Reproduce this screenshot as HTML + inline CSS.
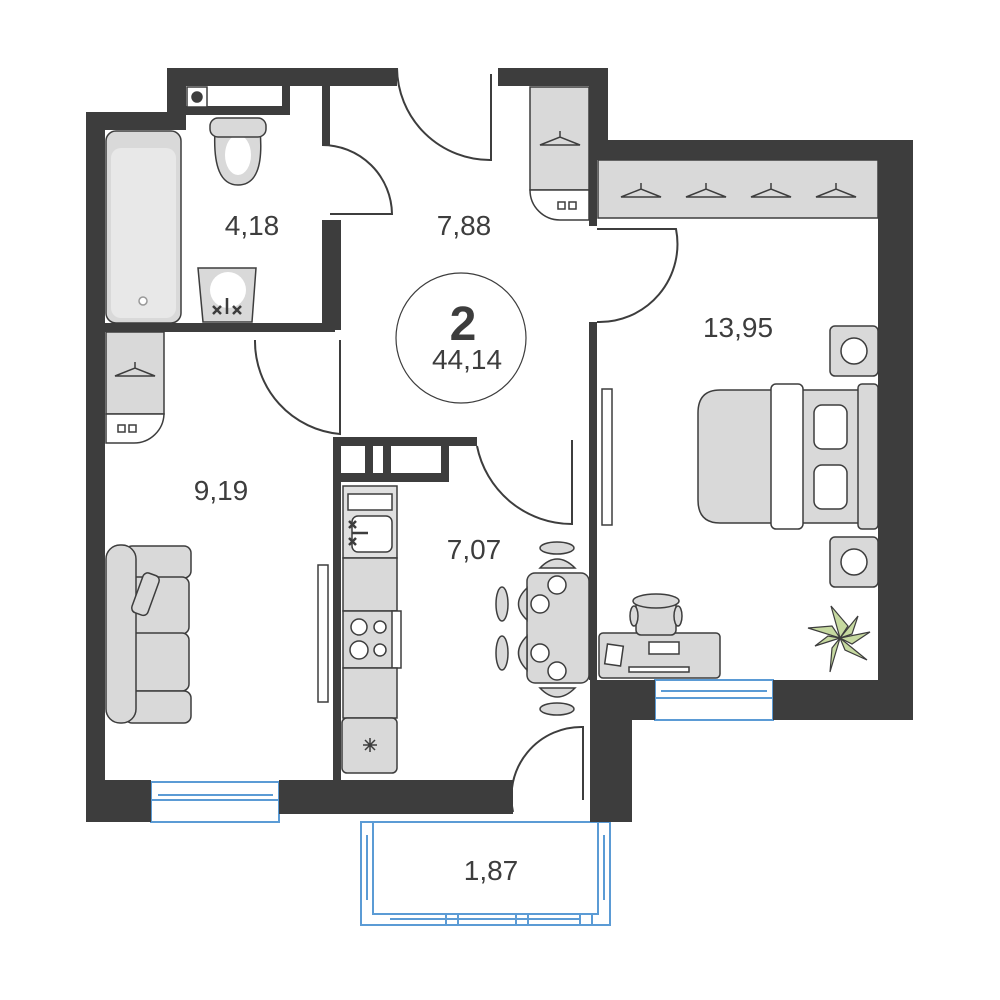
<!DOCTYPE html>
<html><head><meta charset="utf-8"><style>html,body{margin:0;padding:0;background:#fff}svg{display:block}</style></head>
<body>
<svg width="1000" height="1000" viewBox="0 0 1000 1000" xmlns="http://www.w3.org/2000/svg" font-family="Liberation Sans, DejaVu Sans, sans-serif">
<rect width="1000" height="1000" fill="#fff"/>
<g fill="none" stroke="#5b9bd5" stroke-width="2">
<rect x="361" y="822" width="249" height="103"/>
<rect x="373" y="822" width="225" height="92"/>
<line x1="367" y1="835" x2="367" y2="900"/><line x1="604" y1="835" x2="604" y2="900"/>
<line x1="390" y1="919" x2="580" y2="919"/>
<rect x="446" y="914" width="12" height="11"/><rect x="516" y="914" width="12" height="11"/><rect x="580" y="914" width="12" height="11"/>
<rect x="151" y="782" width="128" height="40"/><line x1="151" y1="800" x2="279" y2="800"/><line x1="158" y1="795" x2="273" y2="795"/>
<rect x="655" y="680" width="118" height="40"/><line x1="655" y1="698" x2="773" y2="698"/><line x1="661" y1="691" x2="767" y2="691"/>
</g>
<g fill="#3d3d3d">
<rect x="167" y="68" width="230" height="18"/>
<rect x="167" y="68" width="19" height="62"/>
<rect x="86" y="112" width="100" height="18"/>
<rect x="86" y="112" width="19" height="668"/>
<rect x="86" y="780" width="65" height="42"/>
<rect x="279" y="780" width="234" height="34"/>
<rect x="498" y="68" width="110" height="18"/>
<rect x="590" y="68" width="18" height="92"/>
<rect x="590" y="140" width="323" height="20"/>
<rect x="878" y="140" width="35" height="580"/>
<rect x="773" y="680" width="140" height="40"/>
<rect x="590" y="680" width="65" height="40"/>
<rect x="590" y="680" width="42" height="142"/>
<rect x="322" y="220" width="19" height="110"/>
<rect x="322" y="86" width="8" height="59"/>
<rect x="105" y="323" width="230" height="9"/>
<rect x="333" y="437" width="8" height="343"/>
<rect x="333" y="437" width="144" height="9"/>
<rect x="589" y="322" width="8" height="358"/>
<rect x="589" y="86" width="8" height="140"/>
<rect x="186" y="106" width="104" height="9"/><rect x="282" y="86" width="8" height="28"/>
<rect x="341" y="473" width="108" height="9"/><rect x="441" y="446" width="8" height="34"/><rect x="365" y="446" width="8" height="30"/><rect x="383" y="446" width="8" height="30"/>
</g>
<g fill="none" stroke="#3d3d3d" stroke-width="2">
<path d="M397 68 A93 93 0 0 0 491 160 L491 74"/>
<path d="M322 145 A70 70 0 0 1 392 214 L330 214"/>
<path d="M255 340 A93 93 0 0 0 340 434 L340 340"/>
<path d="M477 446 A97 97 0 0 0 572 524 L572 440"/>
<path d="M597 322 A78 78 0 0 0 676 229 L597 229"/>
<path d="M513 812 A70 70 0 0 1 583 727 L583 800"/>
</g>
<g stroke="#3d3d3d" stroke-width="1.5" fill="#d9d9d9">
<rect x="106" y="131" width="75" height="192" rx="10"/>
<rect x="111" y="148" width="65" height="170" rx="10" fill="#e8e8e8" stroke="none"/>
<circle cx="143" cy="301" r="4" fill="#fff" stroke="#999"/>
<rect x="187" y="87" width="20" height="20" fill="#fff"/><circle cx="197" cy="97" r="5" fill="#3d3d3d"/>
<path d="M215 130 L260 130 Q265 185 238 185 Q212 185 215 130Z"/>
<ellipse cx="238" cy="155" rx="13" ry="20" fill="#fff" stroke="none"/>
<rect x="210" y="118" width="56" height="19" rx="8"/>
<path d="M198 268 L256 268 L252 322 L203 322 Z"/>
<circle cx="228" cy="290" r="18" fill="#fff" stroke="none"/>
<rect x="106" y="332" width="58" height="82"/>
<path d="M106 414 L164 414 A30 30 0 0 1 134 443 L106 443 Z" fill="#fff"/>
<rect x="530" y="87" width="59" height="103"/>
<path d="M530 190 L589 190 L589 220 L560 220 A30 30 0 0 1 530 190Z" fill="#fff"/>
<rect x="598" y="160" width="280" height="58"/>
</g>
<g fill="none" stroke="#3d3d3d" stroke-width="1.5">
<path d="M115 376 L155 376 L135 368 Z M135 368 v-6"/>
<path d="M540 145 L580 145 L560 137 Z M560 137 v-6"/>
<path d="M621 197 L661 197 L641 189 Z M641 189 v-6"/>
<path d="M686 197 L726 197 L706 189 Z M706 189 v-6"/>
<path d="M751 197 L791 197 L771 189 Z M771 189 v-6"/>
<path d="M816 197 L856 197 L836 189 Z M836 189 v-6"/>
<rect x="118" y="425" width="7" height="7"/><rect x="129" y="425" width="7" height="7"/>
<rect x="558" y="202" width="7" height="7"/><rect x="569" y="202" width="7" height="7"/>
</g>
<g stroke="#3d3d3d" stroke-width="1.5" fill="#d9d9d9">
<rect x="125" y="546" width="66" height="32" rx="7"/>
<rect x="125" y="577" width="64" height="57" rx="7"/>
<rect x="125" y="633" width="64" height="58" rx="7"/>
<rect x="125" y="691" width="66" height="32" rx="7"/>
<rect x="106" y="545" width="30" height="178" rx="14"/>
<rect x="137" y="573" width="17" height="42" rx="5" transform="rotate(20 145 594)"/>
<rect x="318" y="565" width="10" height="137" fill="#fff"/>
<rect x="343" y="486" width="54" height="72" fill="#e0e0e0"/>
<rect x="348" y="494" width="44" height="16" fill="#fff"/>
<rect x="352" y="516" width="40" height="36" rx="6" fill="#fff"/>
<rect x="343" y="558" width="54" height="53"/>
<rect x="343" y="611" width="54" height="57"/>
<rect x="392" y="611" width="9" height="57" fill="#fff"/>
<circle cx="359" cy="627" r="8" fill="#fff"/><circle cx="380" cy="627" r="6" fill="#fff"/>
<circle cx="359" cy="650" r="9" fill="#fff"/><circle cx="380" cy="650" r="6" fill="#fff"/>
<rect x="343" y="668" width="54" height="50"/>
<rect x="342" y="718" width="55" height="55" rx="5"/>
<rect x="527" y="573" width="62" height="110" rx="8"/>
<ellipse cx="557" cy="548" rx="17" ry="6"/><ellipse cx="557" cy="709" rx="17" ry="6"/>
<path d="M540 568 Q557 550 575 568 Z"/><path d="M540 688 Q557 706 575 688 Z"/>
<ellipse cx="502" cy="604" rx="6" ry="17"/><ellipse cx="502" cy="653" rx="6" ry="17"/>
<path d="M527 588 Q510 604 527 620 Z"/><path d="M527 636 Q510 653 527 670 Z"/>
<circle cx="557" cy="585" r="9" fill="#fff"/><circle cx="540" cy="604" r="9" fill="#fff"/>
<circle cx="540" cy="653" r="9" fill="#fff"/><circle cx="557" cy="671" r="9" fill="#fff"/>
<rect x="602" y="389" width="10" height="136" fill="#fff"/>
<rect x="830" y="326" width="48" height="50" rx="5"/><circle cx="854" cy="351" r="13" fill="#fff"/>
<rect x="830" y="537" width="48" height="50" rx="5"/><circle cx="854" cy="562" r="13" fill="#fff"/>
<path d="M720 390 L860 390 L860 523 L720 523 Q698 523 698 500 L698 413 Q698 390 720 390Z"/>
<rect x="858" y="384" width="20" height="145" rx="4"/>
<rect x="771" y="384" width="32" height="145" rx="5" fill="#fff"/>
<rect x="814" y="405" width="33" height="44" rx="8" fill="#fff"/>
<rect x="814" y="465" width="33" height="44" rx="8" fill="#fff"/>
<rect x="599" y="633" width="121" height="45" rx="4"/>
<rect x="636" y="600" width="40" height="35" rx="5"/>
<ellipse cx="656" cy="601" rx="23" ry="7"/>
<ellipse cx="634" cy="616" rx="4" ry="10"/><ellipse cx="678" cy="616" rx="4" ry="10"/>
<rect x="649" y="642" width="30" height="12" fill="#fff"/>
<rect x="629" y="667" width="60" height="5" fill="#fff"/>
<rect x="606" y="645" width="16" height="20" fill="#fff" transform="rotate(8 614 655)"/>
</g>
<g fill="#c6d9a0" stroke="#3d3d3d" stroke-width="1.2">
<path d="M840 638 L831 606 L848 626Z"/><path d="M840 638 L808 628 L832 626Z"/>
<path d="M840 638 L870 632 L852 644Z"/><path d="M840 638 L867 660 L845 650Z"/>
<path d="M840 638 L830 672 L832 648Z"/><path d="M840 638 L815 646 L828 636Z"/>
<path d="M840 638 L858 616 L852 634Z"/>
</g>
<g stroke="#3d3d3d" stroke-width="2.5" fill="none">
<path d="M213 306 l8 8 m0 -8 l-8 8 M233 306 l8 8 m0 -8 l-8 8 M227 298 v16"/>
<path d="M349 521 l7 7 m0 -7 l-7 7 M349 538 l7 7 m0 -7 l-7 7 M352 533 h16"/>
<path d="M370 738 v14 M363 745 h14 M365 740 l10 10 M375 740 l-10 10" stroke-width="1.5"/>
</g>
<circle cx="461" cy="338" r="65" fill="#fff" stroke="#3d3d3d" stroke-width="1.2"/>
<g fill="#3d3d3d" text-anchor="middle">
<text x="463" y="340" font-size="48" font-weight="bold">2</text>
<text x="467" y="369" font-size="28">44,14</text>
<text x="252" y="235" font-size="28">4,18</text>
<text x="464" y="235" font-size="28">7,88</text>
<text x="738" y="337" font-size="28">13,95</text>
<text x="221" y="500" font-size="28">9,19</text>
<text x="474" y="559" font-size="28">7,07</text>
<text x="491" y="880" font-size="28">1,87</text>
</g>
</svg>
</body></html>
